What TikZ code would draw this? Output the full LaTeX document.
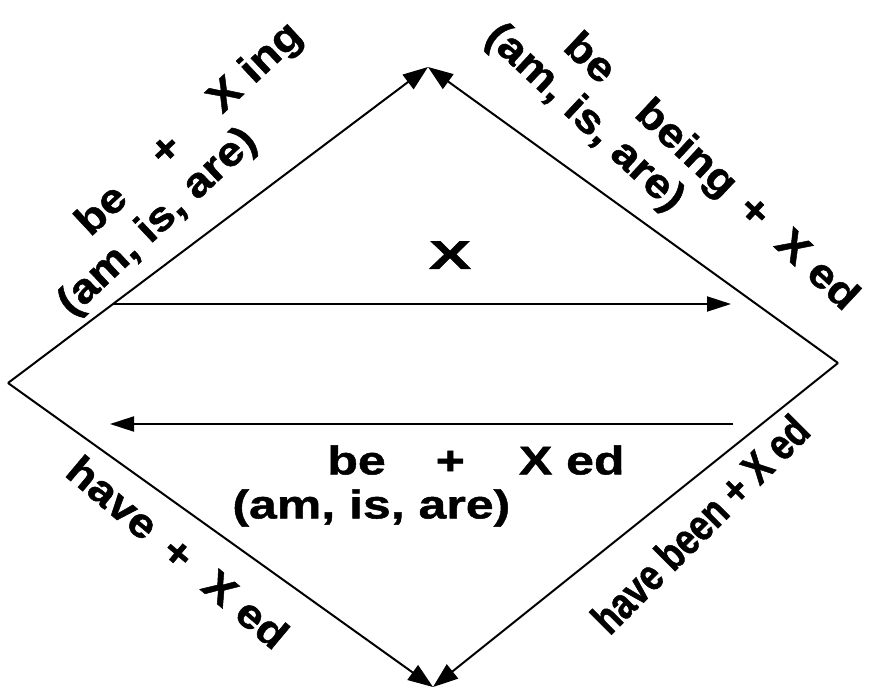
\documentclass[tikz,border=0pt]{standalone}
\usepackage{fontspec}
\usepackage{graphicx}
\usetikzlibrary{arrows.meta}
\newfontfamily\lblfont[FakeStretch=1.25, FakeBold=1.2]{Liberation Sans}
\newfontfamily\sidefont[FakeStretch=1.12, FakeBold=1.2]{Liberation Sans}
\newfontfamily\narrowfont[FakeStretch=0.8, FakeBold=1.2]{Liberation Sans}

\begin{document}
\begin{tikzpicture}[
  x=0.5pt, y=-0.5pt,
  every node/.style={inner sep=0pt, align=left},
  lbl/.style={font=\sidefont\bfseries\fontsize{20.5}{23}\selectfont},
  lblbig/.style={font=\lblfont\bfseries\fontsize{20}{22}\selectfont},
  side/.style={line width=1pt, -{Triangle[length=12.5pt, width=9pt]}},
  flow/.style={line width=1pt, -{Triangle[length=12pt, width=7.5pt]}}
]
  \useasboundingbox (0,0) rectangle (878,690);

  % --- Corners of the diamond ---
  \coordinate (L) at (8,383);
  \coordinate (T) at (428,67);
  \coordinate (R) at (838,363);
  \coordinate (B) at (433,687);
  \draw[side] (L) -- (T);
  \draw[side] (R) -- (T);
  \draw[side] (L) -- (B);
  \draw[side] (R) -- (B);

  % --- Horizontal arrows ---
  \coordinate (u1) at (113,304);
  \coordinate (u2) at (731,304);
  \coordinate (d1) at (733,424);
  \coordinate (d2) at (110,424);
  \draw[flow] (u1) -- (u2);
  \draw[flow] (d1) -- (d2);

  % --- Labels ---
  \node[lbl, rotate=43] (prog) at (181,170)
    {\hspace*{34pt}be\hspace{24pt}+\hspace{26pt}X ing\\(am, is, are)};
  \node[lbl, rotate=-43] (progpas) at (671,168)
    {\hspace*{32pt}be\hspace{22pt}being\hspace{9pt}+\hspace{12pt}X ed\\(am, is, are)};
  \node[lbl, rotate=-40] (perf) at (178,552) {have\hspace{10pt}+\hspace{13pt}X ed};
  \node[font=\narrowfont\bfseries\fontsize{22}{24}\selectfont, rotate=45] (perfpas) at (700,524)
    {have been + X ed};
  \node[lblbig] (simple) at (450,255) {\scalebox{1.27}[1]{X}};
  \node[lblbig, anchor=north west] (pas) at (232,445)
    {\hspace*{47.5pt}be\hspace{25pt}+\hspace{27pt}X ed\\(am, is, are)};
\end{tikzpicture}
\end{document}
